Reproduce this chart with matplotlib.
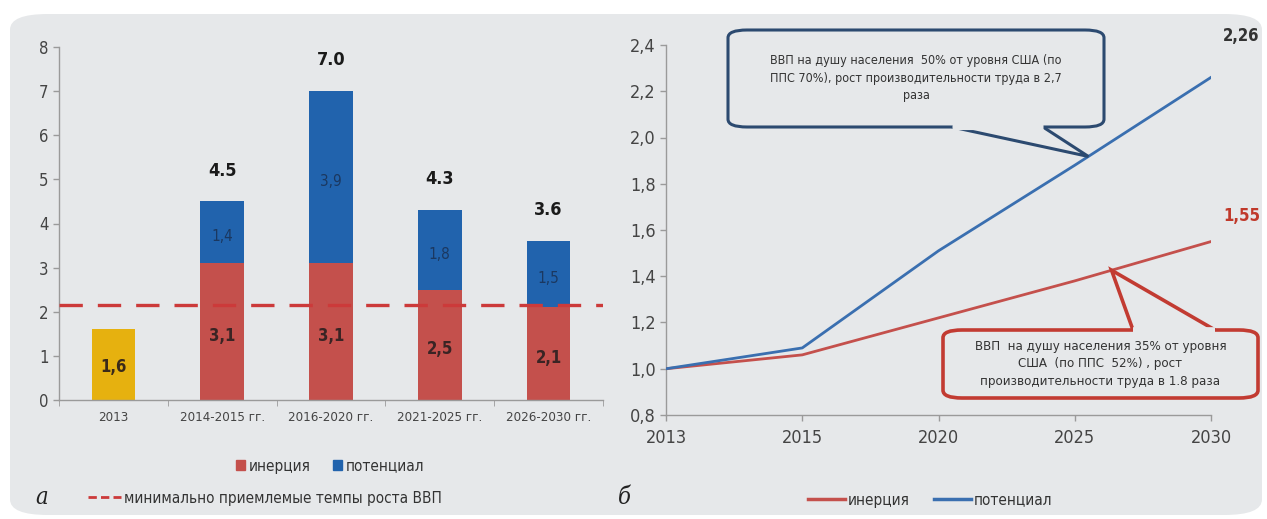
import matplotlib
matplotlib.use("Agg")
import matplotlib.pyplot as plt
from matplotlib.patches import FancyBboxPatch, Patch, Polygon
from matplotlib.lines import Line2D

# левая диаграмма: темпы роста ВВП, %
periods = ["2013", "2014-2015 гг.", "2016-2020 гг.", "2021-2025 гг.", "2026-2030 гг."]
base_2013 = 1.6
inertia = [3.1, 3.1, 2.5, 2.1]
potential = [1.4, 3.9, 1.8, 1.5]
totals = [4.5, 7.0, 4.3, 3.6]
min_growth = 2.15

# правая диаграмма: индекс ВВП (2013 = 1)
years = ["2013", "2015", "2020", "2025", "2030"]
idx_inertia = [1.0, 1.06, 1.22, 1.38, 1.55]
idx_potential = [1.0, 1.09, 1.51, 1.88, 2.26]

W, H = 1267, 519
RED = "#c4504c"
BLUE = "#2163ad"
GOLD = "#e6b10f"
BG = "#e6e8ea"

plt.rcParams["font.family"] = "DejaVu Sans"
plt.rcParams["font.stretch"] = "condensed"


def px(x, y):
    return x / W, 1 - y / H


fig = plt.figure(figsize=(W / 100, H / 100), dpi=100)
fig.patch.set_facecolor("white")
fig.patches.append(FancyBboxPatch(px(10, 515), 1252 / W, 501 / H,
                                  boxstyle="round,pad=0,rounding_size=0.03",
                                  transform=fig.transFigure, facecolor=BG,
                                  edgecolor="none", zorder=-5))


def style_axes(ax):
    ax.set_facecolor("none")
    for s in ["top", "right"]:
        ax.spines[s].set_visible(False)
    for s in ["left", "bottom"]:
        ax.spines[s].set_color("#9a9a9a")
        ax.spines[s].set_linewidth(1.0)
    ax.tick_params(colors="#9a9a9a", length=4, width=1.0, labelcolor="#444444")


# --- а: столбцы ---
ax1 = fig.add_axes([59 / W, (H - 400) / H, 544 / W, 353 / H])
style_axes(ax1)
bw = 0.4
ax1.bar(0, base_2013, width=bw, color=GOLD, zorder=2)
xs = list(range(1, len(periods)))
ax1.bar(xs, inertia, width=bw, color=RED, zorder=2)
ax1.bar(xs, potential, width=bw, bottom=inertia, color=BLUE, zorder=2)
ax1.axhline(min_growth, color="#cc3a3a", lw=2.4, dashes=(7, 4.5), zorder=3)

ax1.text(0, base_2013 / 2 - 0.05, f"{base_2013:.1f}".replace(".", ","), ha="center",
         va="center", fontsize=12, color="#3a2a1a", fontweight="bold", zorder=4)
for x, a, p, t in zip(xs, inertia, potential, totals):
    ax1.text(x, a / 2 - 0.1, f"{a:.1f}".replace(".", ","), ha="center", va="center",
             fontsize=12, color="#3a2424", fontweight="bold", zorder=4)
    ax1.text(x, a + p / 2 - 0.1, f"{p:.1f}".replace(".", ","), ha="center",
             va="center", fontsize=11, color="#1b3860", zorder=4)
    ax1.text(x, t + 0.7, f"{t:.1f}", ha="center", va="center", fontsize=13,
             fontweight="bold", color="#1a1a1a")

ax1.set_xlim(-0.5, 4.5)
ax1.set_ylim(0, 8)
ax1.set_yticks(range(0, 9))
ax1.set_xticks(range(len(periods)))
ax1.set_xticklabels(periods, fontsize=9.5)
ax1.set_xticks([i + 0.5 for i in range(-1, 5)], minor=True)
ax1.tick_params(axis="x", which="major", length=0, pad=8)
ax1.tick_params(axis="x", which="minor", length=4, color="#9a9a9a")
ax1.tick_params(axis="y", labelsize=12)

fig.legend(handles=[Patch(color=RED, label="инерция"),
                    Patch(color=BLUE, label="потенциал")],
           loc="center", bbox_to_anchor=px(330, 466), ncol=2, frameon=False,
           fontsize=11, handlelength=0.6, handleheight=0.6, handletextpad=0.2,
           columnspacing=1.5, labelcolor="#333333")
fig.legend(handles=[Line2D([], [], color="#cc3a3a", lw=2, dashes=(3, 1.5),
                           label="минимально приемлемые темпы роста ВВП")],
           loc="center", bbox_to_anchor=px(265, 498), frameon=False, fontsize=11,
           handlelength=2.2, handletextpad=0.2, labelcolor="#333333")
fig.text(*px(42, 498), "а", fontsize=17, style="italic", family="DejaVu Serif",
         va="center", ha="center", color="#222222")

# --- б: индексы ---
ax2 = fig.add_axes([666 / W, (H - 415) / H, 545 / W, 370 / H])
style_axes(ax2)
xi = list(range(len(years)))
ax2.plot(xi, idx_inertia, color=RED, lw=2.0, zorder=3)
ax2.plot(xi, idx_potential, color="#3a6fb0", lw=2.0, zorder=3)
ax2.set_xlim(0, 4)
ax2.set_ylim(0.8, 2.4)
yt = [0.8 + 0.2 * i for i in range(9)]
ax2.set_yticks(yt)
ax2.set_yticklabels([f"{v:.1f}".replace(".", ",") for v in yt], fontsize=13)
ax2.set_xticks(xi)
ax2.set_xticklabels(years, fontsize=13)
ax2.tick_params(axis="x", pad=6)

ax2.annotate(f"{idx_potential[-1]:.2f}".replace(".", ","), (4, idx_potential[-1]),
             xytext=(22, 26), textcoords="offset points", ha="center",
             fontsize=12, color="#333333", fontweight="bold", annotation_clip=False)
ax2.annotate(f"{idx_inertia[-1]:.2f}".replace(".", ","), (4, idx_inertia[-1]),
             xytext=(22, 15), textcoords="offset points", ha="center",
             fontsize=12, color="#c0392b", fontweight="bold", annotation_clip=False)

fig.legend(handles=[Line2D([], [], color=RED, lw=2.5, label="инерция"),
                    Line2D([], [], color="#3a6fb0", lw=2.5, label="потенциал")],
           loc="center", bbox_to_anchor=px(930, 500), ncol=2, frameon=False,
           fontsize=11, handlelength=2.4, handletextpad=0.2, columnspacing=1.6,
           labelcolor="#333333")
fig.text(*px(624, 498), "б", fontsize=17, style="italic", family="DejaVu Serif",
         va="center", ha="center", color="#222222")


def callout(x0, y0, x1, y1, base_a, base_b, tip, edge, lw, lines, size):
    # рамка-выноска в пикселях, хвост указывает на точку линии
    fx0, fy1 = px(x0, y1)
    fig.patches.append(FancyBboxPatch((fx0, fy1), (x1 - x0) / W, (y1 - y0) / H,
                                      boxstyle="round,pad=0,rounding_size=0.015",
                                      transform=fig.transFigure, facecolor=BG,
                                      edgecolor=edge, lw=lw, zorder=5))
    tx, ty = fig.transFigure.inverted().transform(ax2.transData.transform(tip))
    fig.patches.append(Polygon([base_a, (tx, ty), base_b], closed=False,
                               transform=fig.transFigure, facecolor=BG,
                               edgecolor=edge, lw=lw, zorder=6))
    fig.lines.append(Line2D([base_a[0], base_b[0]], [base_a[1], base_b[1]],
                            transform=fig.transFigure, color=BG, lw=lw + 1.5,
                            solid_capstyle="butt", zorder=7))
    fig.text(*px((x0 + x1) / 2, (y0 + y1) / 2), "\n".join(lines), ha="center",
             va="center", fontsize=size, color="#333333", linespacing=1.45,
             zorder=8)


fig.canvas.draw()
callout(728, 30, 1104, 127, px(952, 127), px(1043, 127), (3.1, 1.918),
        "#2c4a70", 2.2,
        ["ВВП на душу населения  50% от уровня США (по",
         "ППС 70%), рост производительности труда в 2,7",
         "раза"], 9)
callout(943, 330, 1258, 398, px(1133, 330), px(1215, 330), (3.27, 1.426),
        "#c23b32", 2.6,
        ["ВВП  на душу населения 35% от уровня",
         "США  (по ППС  52%) , рост",
         "производительности труда в 1.8 раза"], 9.5)

fig.savefig("out.png", dpi=100, facecolor="white")
